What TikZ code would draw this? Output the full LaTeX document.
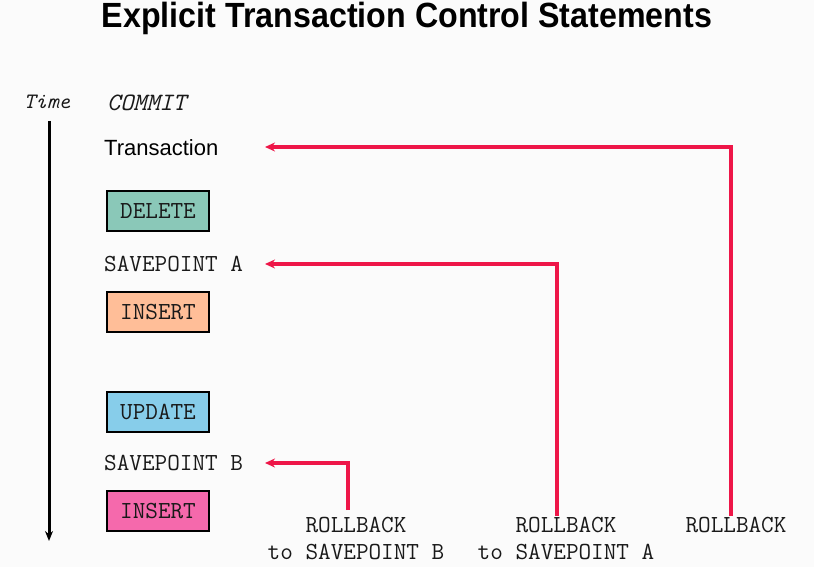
\documentclass[tikz,border=0pt]{standalone}
\usepackage{fontspec}
\setmainfont{Liberation Sans}
\usetikzlibrary{arrows.meta}
\definecolor{bg}{RGB}{251,251,251}
\definecolor{redline}{RGB}{238,22,72}
\definecolor{delc}{RGB}{138,200,184}
\definecolor{insc}{RGB}{255,190,152}
\definecolor{updc}{RGB}{135,205,234}
\definecolor{pinkc}{RGB}{245,105,172}
\tikzset{
  stmt/.style={draw=black,line width=2.6pt,minimum width=102pt,minimum height=40pt,inner sep=0pt,
    font=\ttfamily\fontsize{24.5}{27}\selectfont,text=black!90},
  mono/.style={font=\ttfamily\fontsize{24.5}{27}\selectfont,text=black!90,inner sep=0pt},
  redarrow/.style={draw=redline,line width=3.2pt,-{Stealth[length=10pt,width=9pt]}},
  timearrow/.style={draw=black,line width=3pt,-{Stealth[length=10pt,width=8pt]}}
}
\begin{document}
\begin{tikzpicture}[x=1pt,y=-1pt]
\fill[bg] (0,0) rectangle (814,567);
\useasboundingbox (0,0) rectangle (814,567);
\node[font=\bfseries\fontsize{35}{40}\selectfont,inner sep=0pt] (title) at (407,18) {\scalebox{0.92}[1]{Explicit Transaction Control Statements}};
\node[mono,font=\ttfamily\itshape\fontsize{22}{24}\selectfont] (time) at (47,102) {Time};
\coordinate (tstart) at (49,121);
\coordinate (tend) at (49,541);
\draw[timearrow] (tstart) -- (tend);
\node[mono,font=\ttfamily\itshape\fontsize{25}{27}\selectfont,anchor=west] (commit) at (107,103) {COMMIT};
\node[anchor=west,inner sep=0pt,font=\fontsize{22}{26}\selectfont] (trans) at (104,148) {Transaction};
\node[stmt,fill=delc] (del) at (158,211) {DELETE};
\node[mono,anchor=west] (spA) at (104,264) {SAVEPOINT A};
\node[stmt,fill=insc] (ins1) at (158,312) {INSERT};
\node[stmt,fill=updc] (upd) at (158,412) {UPDATE};
\node[mono,anchor=west] (spB) at (104,463) {SAVEPOINT B};
\node[stmt,fill=pinkc] (ins2) at (158,511) {INSERT};
\node[mono,align=center,anchor=north] (rbB) at (356,517) {ROLLBACK\\to SAVEPOINT B};
\node[mono,align=center,anchor=north] (rbA) at (566,517) {ROLLBACK\\to SAVEPOINT A};
\node[mono,anchor=north] (rb) at (736,517) {ROLLBACK};
\coordinate (tipT) at (265,147);
\coordinate (tipA) at (265,264);
\coordinate (tipB) at (265,463);
\coordinate (startB) at (348,510);
\coordinate (startA) at (557,516);
\coordinate (startT) at (731,516);
\draw[redarrow] (startB) |- (tipB);
\draw[redarrow] (startA) |- (tipA);
\draw[redarrow] (startT) |- (tipT);
\end{tikzpicture}
\end{document}
